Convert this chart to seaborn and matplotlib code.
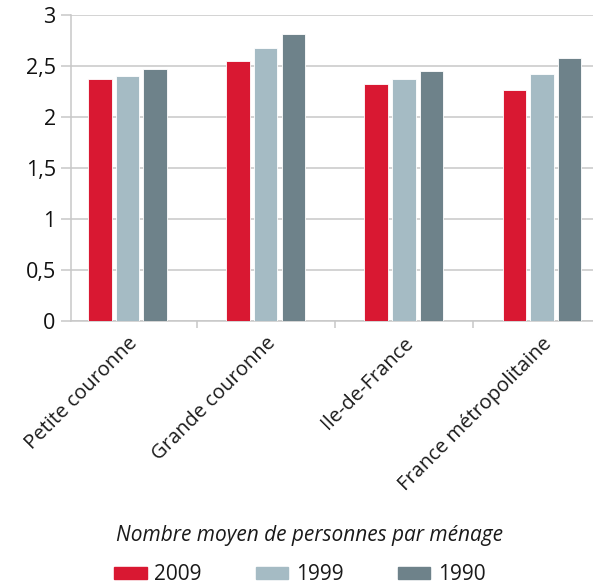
import matplotlib
matplotlib.use("Agg")
import matplotlib.pyplot as plt
import seaborn as sns
import pandas as pd
from matplotlib.ticker import FixedLocator, FuncFormatter

# Average household size by territory and census year
categories = ["Petite couronne", "Grande couronne", "Ile-de-France", "France métropolitaine"]
years = ["2009", "1999", "1990"]
values_2009 = [2.37, 2.55, 2.32, 2.26]
values_1999 = [2.40, 2.68, 2.37, 2.42]
values_1990 = [2.47, 2.81, 2.45, 2.58]
y_ticks = [0, 0.5, 1, 1.5, 2, 2.5, 3]
legend_title = "Nombre moyen de personnes par ménage"

colors = ["#D91832", "#A5BBC4", "#6E828A"]

df = pd.DataFrame({
    "territoire": categories * 3,
    "annee": [y for y in years for _ in categories],
    "valeur": values_2009 + values_1999 + values_1990,
})

sns.set_theme(style="white")
plt.rcParams["font.family"] = ["Open Sans", "DejaVu Sans"]

fig = plt.figure(figsize=(5.93, 5.87), dpi=100)
ax = fig.add_axes([71 / 593, 1 - 321 / 587, 533 / 593, 306 / 587])

sns.barplot(data=df, x="territoire", y="valeur", hue="annee", hue_order=years,
            order=categories, palette=colors, saturation=1, width=0.6, gap=0.15,
            edgecolor="white", linewidth=0.6, ax=ax, legend=False, zorder=3)

ax.set_ylim(0, 3)
ax.set_xlim(-0.41, 3.45)
ax.yaxis.set_major_locator(FixedLocator(y_ticks))
ax.yaxis.set_major_formatter(FuncFormatter(lambda v, p: f"{v:g}".replace(".", ",")))
ax.grid(axis="y", color="#C8C8C8", linewidth=1.1, zorder=0)
ax.set_axisbelow(True)

for side in ["top", "right"]:
    ax.spines[side].set_visible(False)
for side in ["left", "bottom"]:
    ax.spines[side].set_color("#C8C8C8")
    ax.spines[side].set_linewidth(1.1)

ax.tick_params(axis="y", which="major", left=True, length=7, width=1.1,
               color="#C8C8C8", labelsize=15.5, labelcolor="#111111", pad=4)

# category labels at group centres, separator ticks between groups
ax.set_xticks(range(len(categories)))
ax.set_xticklabels(categories, rotation=45, ha="right", rotation_mode="anchor",
                   fontsize=14.5, color="#1a1a1a")
ax.tick_params(axis="x", which="major", bottom=False, pad=3)
ax.set_xticks([0.5, 1.5, 2.5], minor=True)
ax.tick_params(axis="x", which="minor", bottom=True, length=5, width=1.1,
               color="#C8C8C8")
ax.set_xlabel("")
ax.set_ylabel("")

fig.text(309 / 593, 1 - 536 / 587, legend_title, ha="center", va="center",
         fontsize=15, fontstyle="italic", color="#1a1a1a")

handles = [plt.Rectangle((0, 0), 1, 1, color=c) for c in colors]
fig.legend(handles, years, loc="center", bbox_to_anchor=(300 / 593, 1 - 575 / 587),
           ncol=3, frameon=False, fontsize=15, handlelength=1.54, handleheight=0.5,
           handletextpad=0.38, columnspacing=2.6, labelcolor="#1a1a1a")

fig.savefig("out.png", dpi=100)
